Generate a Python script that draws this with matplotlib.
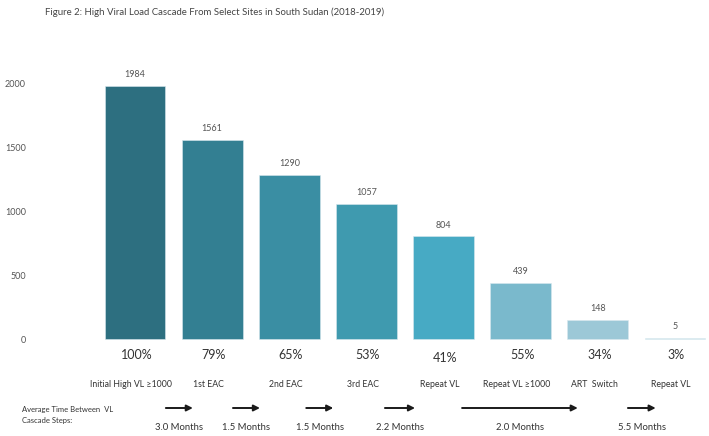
import numpy as np
import matplotlib.pyplot as plt
from matplotlib.transforms import blended_transform_factory

plt.rcParams['font.family'] = ['Lato', 'DejaVu Sans']

title = "Figure 2: High Viral Load Cascade From Select Sites in South Sudan (2018-2019)"
steps = ["Initial High VL \u22651000", "1st EAC", "2nd EAC", "3rd EAC",
         "Repeat VL", "Repeat VL \u22651000", "ART  Switch", "Repeat VL"]
counts = [1984, 1561, 1290, 1057, 804, 439, 148, 5]
percents = ["100%", "79%", "65%", "53%", "41%", "55%", "34%", "3%"]
colors = ["#2d6f80", "#337f92", "#3a8ea3", "#3f9aaf", "#47aac4",
          "#7ab9cc", "#9cc8d7", "#c6e1ea"]

# average time between cascade steps (arrow spans in bar units)
gap_labels = ["3.0 Months", "1.5 Months", "1.5 Months", "2.2 Months",
              "2.0 Months", "5.5 Months"]
gap_start = [0.40, 1.27, 2.22, 3.24, 4.24, 6.39]
gap_end = [0.75, 1.62, 2.57, 3.63, 5.74, 6.75]

W, H = 709, 436
fig = plt.figure(figsize=(W / 100, H / 100), dpi=100)
ax = fig.add_axes([30 / W, (H - 339) / H, 679 / W, (339 - 60) / H])

x = np.arange(len(counts))
bars = ax.bar(x, counts, width=0.79, color=colors, edgecolor="#d8e8ee",
              linewidth=0.4, clip_on=False)
for xi, v in zip(x, counts):
    ax.annotate(str(v), (xi, v), xytext=(0, 5), textcoords="offset points",
                ha="center", va="bottom", fontsize=6.5, color="#555555")

ax.set_xlim(-1.361, 7.441)
ax.set_ylim(0, 2188)
ax.set_yticks([0, 500, 1000, 1500, 2000])
ax.tick_params(axis="y", length=0, pad=3, labelsize=6.5, labelcolor="#555555")
ax.set_xticks([])
for s in ax.spines.values():
    s.set_visible(False)

tr = blended_transform_factory(ax.transData, fig.transFigure)

def fy(py):
    return 1 - py / H

for xi, p in zip(x, percents):
    yy = 358 if p == "41%" else 355
    ax.text(xi + 0.02, fy(yy), p, transform=tr, ha="center", va="center",
            fontsize=9, color="#333333")
for xi, s in zip(x, steps):
    ax.text(xi - 0.05, fy(384), s, transform=tr, ha="center", va="center",
            fontsize=6.3, color="#333333")

for a, b, lab in zip(gap_start, gap_end, gap_labels):
    ax.annotate("", xy=(b, fy(408)), xytext=(a, fy(408)),
                xycoords=tr, textcoords=tr,
                arrowprops=dict(arrowstyle="-|>", color="#1a1a1a", lw=1.4,
                                mutation_scale=9, shrinkA=0, shrinkB=0))
    ax.text((a + b) / 2, fy(427), lab, transform=tr, ha="center",
            va="center", fontsize=6.8, color="#333333")

fig.text(22 / W, fy(409), "Average Time Between  VL", fontsize=5.5,
         color="#333333", va="center", ha="left")
fig.text(22 / W, fy(420), "Cascade Steps:", fontsize=5.5,
         color="#333333", va="center", ha="left")

fig.text(45 / W, fy(12), title, fontsize=6.9, color="#444444",
         va="center", ha="left")

fig.savefig("out.png", dpi=100)
